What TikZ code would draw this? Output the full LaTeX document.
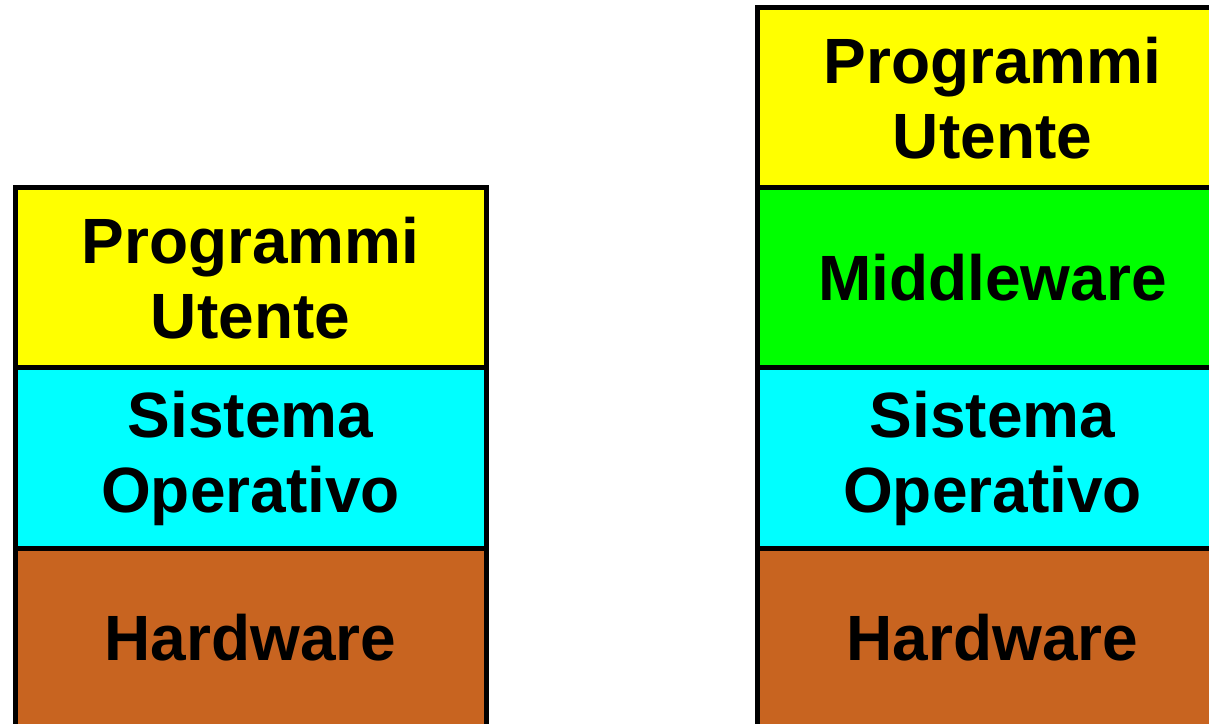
\documentclass[tikz,border=0pt]{standalone}
\usepackage{fontspec}
\setmainfont{Liberation Sans}
\usepackage{tikz}
\usetikzlibrary{positioning}
\usepackage{xcolor}
\definecolor{laywhite}{RGB}{255,255,255}
\definecolor{layyellow}{RGB}{255,255,0}
\definecolor{laycyan}{RGB}{0,255,255}
\definecolor{laygreen}{RGB}{0,255,0}
\definecolor{laybrown}{RGB}{200,100,32}
\tikzstyle{layer} = [rectangle, draw=black, line width=2.5pt, outer sep=0pt, minimum width=235.5pt, minimum height=90pt, align=center, font=\bfseries\fontsize{32}{37.5}\selectfont]

\begin{document}
\begin{tikzpicture}[x=0.5pt,y=0.5pt]
% Frame
\path[use as bounding box, clip] (0,0) rectangle (1209,723);

% Stack without middleware
\node[layer, fill=laybrown] (hwa) at (250.5,85) {Hardware};
\node[layer, fill=laycyan, above=0pt of hwa] (osa) {Sistema\\Operativo};
\node[layer, fill=layyellow, above=0pt of osa] (usra) {Programmi\\Utente};

% Stack with middleware
\node[layer, fill=laybrown] (hwb) at (992.5,85) {Hardware};
\node[layer, fill=laycyan, above=0pt of hwb] (osb) {Sistema\\Operativo};
\node[layer, fill=laygreen, above=0pt of osb] (mwb) {Middleware};
\node[layer, fill=layyellow, above=0pt of mwb] (usrb) {Programmi\\Utente};
\end{tikzpicture}
\end{document}
